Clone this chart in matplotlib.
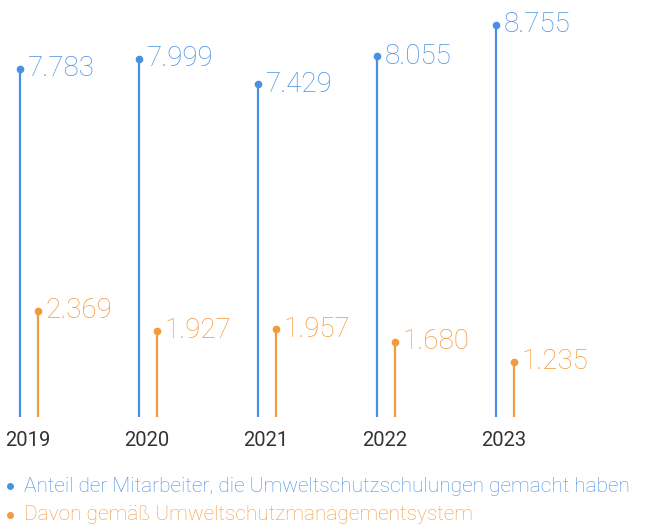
#!/usr/bin/env python3

import matplotlib.pyplot as plt
from matplotlib.lines import Line2D

# Data
years = ["2019", "2020", "2021", "2022", "2023"]
trained = [7783, 7999, 7429, 8055, 8755]
trained_ums = [2369, 1927, 1957, 1680, 1235]
labels_trained = ["7.783", "7.999", "7.429", "8.055", "8.755"]
labels_ums = ["2.369", "1.927", "1.957", "1.680", "1.235"]

BLUE = "#4a90e2"
ORANGE = "#f39a3c"
plt.rcParams["font.family"] = "Roboto"


def main():
    fig = plt.figure(figsize=(6.61, 5.29), dpi=100)
    ax = fig.add_axes([0, (529 - 417) / 529, 1, 417 / 529])
    ax.set_xlim(-29 / 119, (661 - 29) / 119)
    ax.set_ylim(0, 8755 * 417 / 392)
    ax.axis("off")

    off = 0.076
    for i, (a, b) in enumerate(zip(trained, trained_ums)):
        ax.vlines(i - off, 0, a, color=BLUE, lw=1.6)
        ax.plot(i - off, a, "o", color=BLUE, ms=4.5)
        ax.text(i - off + 0.065, a, labels_trained[i], color=BLUE,
                fontsize=20, fontweight="light", va="center", ha="left")
        ax.vlines(i + off, 0, b, color=ORANGE, lw=1.6)
        ax.plot(i + off, b, "o", color=ORANGE, ms=4.5)
        ax.text(i + off + 0.065, b, labels_ums[i], color=ORANGE,
                fontsize=20, fontweight="light", va="center", ha="left")
        fig.text((29 + 119 * i - 1) / 661, 1 - 440 / 529, years[i],
                 color="#333333", fontsize=14.5, ha="center", va="center")

    # Legend
    for ypx, col, txt in [
        (486, BLUE, "Anteil der Mitarbeiter, die Umweltschutzschulungen gemacht haben"),
        (515, ORANGE, "Davon gemäß Umweltschutzmanagementsystem"),
    ]:
        fig.add_artist(Line2D([10 / 661], [1 - ypx / 529], marker="o", ms=4,
                              color=col, transform=fig.transFigure))
        fig.text(24 / 661, 1 - ypx / 529, txt, color=col, fontsize=15,
                 fontweight="light", ha="left", va="center")

    fig.savefig("out.png", dpi=100)


if __name__ == "__main__":
    main()
